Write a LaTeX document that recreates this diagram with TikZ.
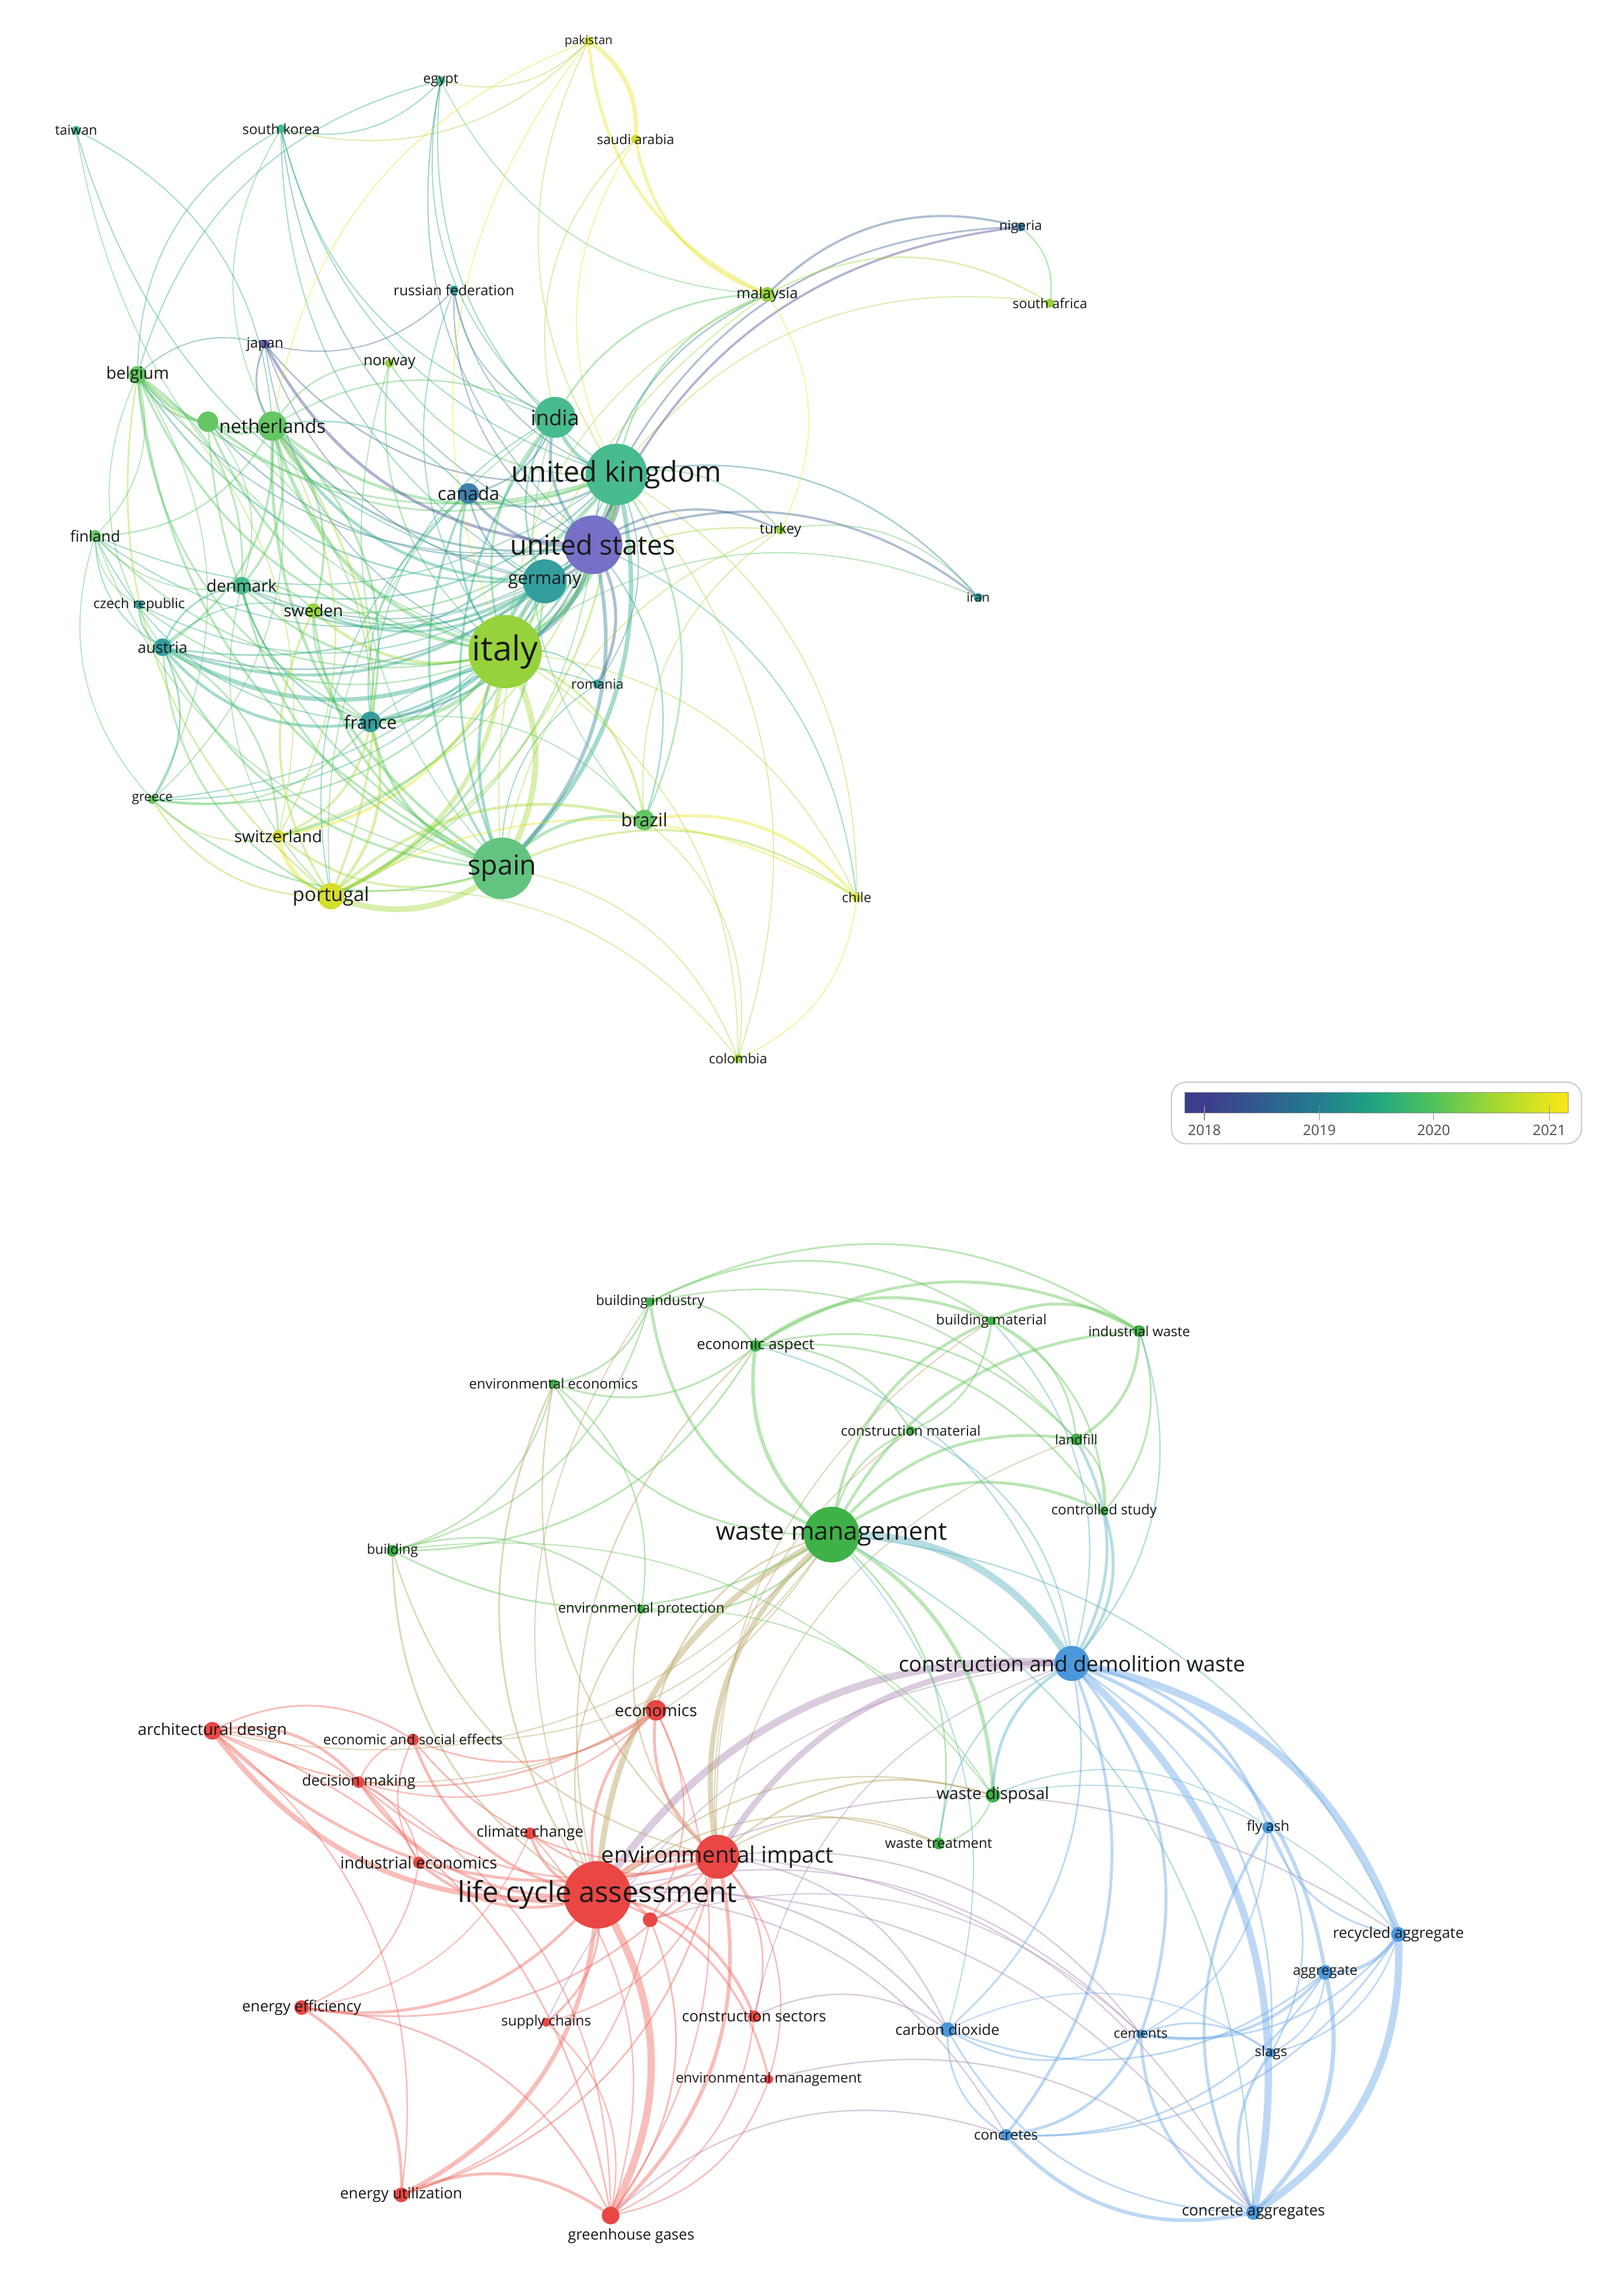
\documentclass[tikz,border=0pt]{standalone}
\usepackage{fontspec}
\setmainfont{Open Sans}
\pgfdeclarelayer{bg}
\pgfdeclarelayer{edges}
\pgfdeclarelayer{nodes}
\pgfsetlayers{bg,edges,nodes,main}
% year scale colours
\definecolor{c0}{RGB}{62,60,140}
\definecolor{c1}{RGB}{48,92,141}
\definecolor{c2}{RGB}{35,125,142}
\definecolor{c3}{RGB}{32,165,128}
\definecolor{c4}{RGB}{80,195,90}
\definecolor{c5}{RGB}{160,215,50}
\definecolor{c6}{RGB}{230,228,30}
\definecolor{c6e}{RGB}{248,232,25}
% node fills (top)
\definecolor{nUS}{RGB}{118,112,198}
\definecolor{n0}{RGB}{92,88,170}
\definecolor{n1}{RGB}{62,128,172}
\definecolor{n2}{RGB}{52,158,158}
\definecolor{n3}{RGB}{72,188,142}
\definecolor{nES}{RGB}{98,196,128}
\definecolor{n4}{RGB}{100,198,100}
\definecolor{n5}{RGB}{150,210,60}
\definecolor{n6}{RGB}{212,222,45}
% bottom clusters
\definecolor{nR}{RGB}{233,70,68}
\definecolor{nG}{RGB}{62,178,72}
\definecolor{nB}{RGB}{74,152,220}
\definecolor{eR}{RGB}{240,110,100}
\definecolor{eG}{RGB}{105,200,95}
\definecolor{eB}{RGB}{110,170,232}
\definecolor{eRG}{RGB}{185,165,100}
\definecolor{eRB}{RGB}{175,140,185}
\definecolor{eGB}{RGB}{95,180,195}
\pgfdeclarehorizontalshading{yrs}{100bp}{color(0bp)=(c0); color(27.5bp)=(c0); color(42.5bp)=(c2); color(50bp)=(c3); color(57.5bp)=(c4); color(65bp)=(c5); color(72.5bp)=(c6); color(75bp)=(c6e); color(100bp)=(c6e)}
\tikzset{
  dot/.style={circle, inner sep=0pt, draw=none},
  lab/.style={inner sep=0.5pt, text=black!90},
  lnk/.style={line cap=round, draw opacity=0.4},
}
\newcommand\vn[7]{%
  \begin{pgfonlayer}{nodes}\node[dot, fill=#5, minimum size=#4*0.05cm] (#1) at (#2,-#3) {};\end{pgfonlayer}%
  \node[lab, font=\fontsize{#6}{#6}\selectfont] (#1-t) at (#1.center) {#7};}
\begin{document}
\begin{tikzpicture}[x=0.025cm, y=0.025cm]
\useasboundingbox (0,0) rectangle (1096,-1568);
\begin{pgfonlayer}{bg}\fill[white] (0,0) rectangle (1096,-1568);\end{pgfonlayer}
% ---------------- top network ----------------
\vn{pk}{402}{28}{3}{n6}{5.9}{pakistan}
\vn{eg}{301}{55}{3}{n3}{6.6}{egypt}
\vn{tw}{52}{89}{3}{n3}{6.6}{taiwan}
\vn{kr}{192}{88}{3}{n3}{6.8}{south korea}
\vn{sa}{434}{95}{3}{n6}{6.6}{saudi arabia}
\vn{ng}{697}{155}{3}{n1}{6.5}{nigeria}
\vn{ru}{310}{198}{3}{n2}{6.9}{russian federation}
\vn{my}{524}{201}{5}{n5}{7.3}{malaysia}
\vn{za}{717}{207}{3}{n5}{6.6}{south africa}
\vn{jp}{181}{235}{3}{n0}{6.9}{japan}
\vn{nor}{266}{248}{3}{n5}{7.3}{norway}
\vn{be}{94}{256}{6}{n4}{8.1}{belgium}
\vn{ind}{379}{285}{14}{n3}{10.3}{india}
\begin{pgfonlayer}{nodes}\node[dot, fill=n4, minimum size=7*0.05cm] (nlb) at (142,-288) {};\end{pgfonlayer}
\vn{nl}{186}{291}{10}{n4}{9.2}{netherlands}
\vn{uk}{421}{324}{21}{n3}{13.9}{united kingdom}
\vn{ca}{320}{337}{7}{n1}{8.9}{canada}
\vn{us}{405}{372}{20}{nUS}{13.3}{united states}
\vn{fi}{65}{366}{4}{n4}{7.5}{finland}
\vn{tr}{533}{362}{3}{n5}{6.9}{turkey}
\vn{dk}{165}{400}{6}{n3}{8.1}{denmark}
\vn{de}{372}{397}{15}{n2}{8.6}{germany}
\vn{cz}{95}{413}{3}{n2}{6.7}{czech republic}
\vn{se}{214}{417}{5}{n5}{8.0}{sweden}
\vn{ir}{668}{408}{3}{n2}{6.2}{iran}
\vn{aut}{111}{442}{6}{n2}{7.5}{austria}
\vn{it}{345}{445}{25}{n5}{16.7}{italy}
\vn{ro}{408}{467}{3}{n2}{6.5}{romania}
\vn{fr}{253}{493}{7}{n2}{8.7}{france}
\vn{gr}{104}{546}{3}{n4}{6.4}{greece}
\vn{br}{440}{560}{7}{n4}{8.9}{brazil}
\vn{ch}{190}{571}{4}{n6}{8.0}{switzerland}
\vn{es}{343}{593}{21}{nES}{13.3}{spain}
\vn{pt}{226}{612}{9}{n6}{9.4}{portugal}
\vn{cl}{585}{613}{3}{n6}{6.6}{chile}
\vn{co}{504}{723}{3}{n5}{6.6}{colombia}
\begin{pgfonlayer}{edges}
\foreach \a/\b/\w/\c in {
uk/us/4/c1, uk/it/4/c4, uk/es/3/c3, uk/de/2.5/c2, uk/ind/2.5/c3, uk/ca/1.5/c2, uk/fr/1.5/c3, uk/nl/2/c4, uk/pt/1.5/c5, uk/br/1.2/c4, uk/tr/1/c4, uk/ir/1/c2, uk/my/1.2/c4, uk/ng/1.2/c1, uk/za/0.8/c5, uk/sa/0.8/c6, uk/pk/0.8/c5, uk/eg/0.8/c3, uk/kr/0.8/c3, uk/be/1.2/c4, uk/dk/1.2/c3, uk/se/1.2/c4, uk/aut/1.2/c3, uk/nor/1/c4, uk/jp/1/c1, uk/ru/0.8/c2, uk/gr/0.8/c3, uk/ch/1/c5, uk/fi/0.8/c3, uk/cl/0.8/c5, uk/co/0.8/c5, uk/ro/0.8/c2, uk/nlb/1.2/c4,
us/it/3/c2, us/es/2.5/c2, us/de/2/c1, us/ind/2/c2, us/ca/2/c1, us/fr/1.5/c2, us/nl/1.5/c2, us/jp/2/c0, us/ir/1.5/c1, us/tr/1.5/c1, us/ro/2/c1, us/ng/1.5/c0, us/my/1/c2, us/br/1/c3, us/kr/0.8/c2, us/eg/0.8/c2, us/ru/0.8/c1, us/pt/0.8/c4, us/be/0.8/c2, us/aut/1/c2, us/cl/0.8/c3, us/dk/0.8/c2, us/se/0.8/c3, us/nlb/1/c2,
it/es/4/c5, it/pt/3/c5, it/fr/2.5/c4, it/de/2.5/c3, it/ind/1.5/c4, it/ch/2/c6, it/br/1.5/c5, it/gr/1.2/c4, it/aut/3/c3, it/nl/2.5/c4, it/be/1.5/c4, it/dk/1.5/c4, it/se/2/c5, it/fi/1/c4, it/cz/1/c4, it/ro/1/c3, it/tr/1/c5, it/co/0.8/c5, it/cl/0.8/c5, it/ca/1.5/c3, it/jp/0.8/c2, it/nor/1/c4, it/ru/0.8/c3, it/tw/0.8/c4, it/pk/0.8/c6, it/ir/0.8/c4, it/my/0.8/c5, it/nlb/1.5/c4,
es/pt/4/c5, es/fr/2/c4, es/de/2/c3, es/br/2/c4, es/ind/1.5/c3, es/nl/2/c4, es/ch/1.5/c5, es/gr/1.2/c4, es/aut/1.5/c4, es/dk/1.5/c4, es/se/1.5/c4, es/be/1.5/c4, es/cl/1.5/c5, es/co/0.8/c5, es/ro/0.8/c3, es/ca/1.5/c3, es/fi/0.8/c4, es/my/0.8/c5, es/tr/0.8/c5, es/nor/0.8/c4, es/nlb/1.2/c4,
de/fr/1.5/c3, de/nl/2/c3, de/aut/2/c3, de/dk/1.5/c3, de/se/1.5/c3, de/ch/1.5/c4, de/pt/1.5/c4, de/be/1.2/c3, de/ind/1.2/c3, de/ca/1.2/c2, de/jp/0.8/c1, de/cz/0.8/c3, de/gr/0.8/c3, de/fi/0.8/c3, de/tw/0.8/c3, de/kr/0.8/c3,
nl/be/2/c4, nl/nlb/1.5/c4, nl/fr/1.5/c4, nl/pt/1.5/c5, nl/dk/1.5/c4, nl/se/1.5/c4, nl/aut/1.5/c4, nl/fi/1/c4, nl/jp/1.2/c1, nl/nor/1/c4, nl/ch/1/c5, nl/ind/1/c4, nl/ca/1/c3, nl/gr/0.8/c4, nl/kr/0.8/c4, nl/pk/0.8/c6,
nlb/be/1.5/c4, nlb/fr/0.8/c4, nlb/dk/0.8/c4,
fr/pt/2/c5, fr/ch/1.5/c5, fr/aut/2/c3, fr/gr/1/c4, fr/be/1.2/c4, fr/dk/1.2/c3, fr/se/1.2/c4, fr/ind/0.8/c3, fr/ca/0.8/c3, fr/br/0.8/c4, fr/fi/0.8/c3, fr/ro/0.8/c3,
pt/ch/3/c6, pt/br/2/c5, pt/gr/1.2/c5, pt/aut/1.2/c4, pt/se/1.5/c5, pt/dk/0.8/c4, pt/be/1.2/c5, pt/cl/1.2/c6, pt/co/0.8/c5, pt/ind/0.8/c4, pt/ca/0.8/c3,
br/cl/2/c6, br/co/0.8/c5, br/ind/0.8/c4, br/tr/0.8/c5,
aut/cz/1.2/c3, aut/gr/1.2/c3, aut/ch/1.2/c4, aut/fi/0.8/c3, aut/dk/1.2/c3, aut/se/0.8/c3, aut/be/0.8/c4,
be/fi/0.8/c4, be/dk/1.2/c4, be/ch/0.8/c5, be/eg/0.8/c3, be/jp/0.8/c2, be/gr/0.8/c4, be/kr/0.8/c3,
ind/my/1.2/c4, ind/ca/1.2/c2, ind/kr/0.8/c3, ind/eg/0.8/c3, ind/sa/0.8/c5, ind/ru/0.8/c2,
my/pk/2/c6, my/sa/2/c6, my/ng/1.5/c1, my/za/1/c5, my/tr/0.8/c6, my/eg/0.8/c4,
pk/sa/3/c6, pk/kr/0.8/c5, pk/eg/0.8/c5,
ng/za/1/c4, tw/nl/0.8/c3, ru/jp/0.8/c1, tr/ir/0.8/c4, cl/co/0.8/c6, dk/se/1.2/c4, dk/fi/0.8/c4, cz/fi/0.8/c4, ch/gr/0.8/c5, gr/fi/0.8/c4, eg/kr/0.8/c3}
  \draw[lnk, line width=\w*0.71pt, draw=\c] (\a.center) to[bend left=30] (\b.center);
\end{pgfonlayer}
% legend
\node[draw=black!20, line width=0.6pt, rounded corners=0.25cm, minimum width=280*0.025cm, minimum height=42*0.025cm, inner sep=0pt] (leg) at (940,-760) {};
\node[shade, shading=yrs, draw=black!45, line width=0.4pt, minimum width=262*0.025cm, minimum height=14*0.025cm, inner sep=0pt] (bar) at (940,-753) {};
\foreach \x/\yr in {822.5/2018, 901/2019, 979/2020, 1058/2021}{
  \draw[black!45, line width=0.4pt] (\x,-755) -- (\x,-765);
  \node[lab, text=black!70, font=\fontsize{7}{7}\selectfont] (y\yr) at (\x,-772) {\yr};
}
% ---------------- bottom network ----------------
\vn{bi}{444}{889}{3}{nG}{6.7}{building industry}
\vn{ea}{516}{919}{4}{nG}{7.3}{economic aspect}
\vn{bm}{677}{902}{3}{nG}{6.8}{building material}
\vn{iw}{778}{909}{4}{nG}{6.7}{industrial waste}
\vn{eec}{378}{945}{3}{nG}{6.8}{environmental economics}
\vn{cm}{622}{977}{3}{nG}{6.8}{construction material}
\vn{lf}{735}{983}{4}{nG}{6.6}{landfill}
\vn{cst}{754}{1032}{3}{nG}{6.8}{controlled study}
\vn{bld}{268}{1059}{4}{nG}{6.6}{building}
\vn{wm}{568}{1048}{19}{nG}{12.2}{waste management}
\vn{ep}{438}{1099}{3}{nG}{6.8}{environmental protection}
\vn{cdw}{732}{1136}{12}{nB}{10.4}{construction and demolition waste}
\vn{econ}{448}{1168}{7}{nR}{8.0}{economics}
\vn{arch}{145}{1182}{6}{nR}{7.9}{architectural design}
\vn{ese}{282}{1188}{4}{nR}{6.8}{economic and social effects}
\vn{dm}{245}{1217}{4}{nR}{7.3}{decision making}
\vn{wd}{678}{1226}{5}{nG}{8.0}{waste disposal}
\vn{cc}{362}{1252}{4}{nR}{7.4}{climate change}
\vn{wt}{641}{1259}{4}{nG}{6.8}{waste treatment}
\vn{fa}{866}{1248}{4}{nB}{6.9}{fly ash}
\vn{ei}{490}{1268}{15}{nR}{11.0}{environmental impact}
\vn{ie}{286}{1272}{4}{nR}{7.9}{industrial economics}
\vn{lca}{408}{1294}{23}{nR}{14.0}{life cycle assessment}
\begin{pgfonlayer}{nodes}\node[dot, fill=nR, minimum size=5*0.05cm] (x) at (444,-1311) {};\end{pgfonlayer}
\vn{ra}{955}{1321}{5}{nB}{7.3}{recycled aggregate}
\vn{ag}{905}{1347}{5}{nB}{6.8}{aggregate}
\vn{ee}{206}{1371}{5}{nR}{7.4}{energy efficiency}
\vn{sc}{373}{1381}{3}{nR}{6.9}{supply chains}
\vn{cs}{515}{1377}{4}{nR}{7.4}{construction sectors}
\vn{co2}{647}{1386}{5}{nB}{7.3}{carbon dioxide}
\vn{cem}{779}{1389}{3}{nB}{6.6}{cements}
\vn{sl}{868}{1402}{3}{nB}{6.8}{slags}
\vn{em}{525}{1420}{3}{nR}{6.8}{environmental management}
\vn{con}{687}{1458}{4}{nB}{6.9}{concretes}
\vn{eu}{274}{1499}{5}{nR}{7.4}{energy utilization}
\begin{pgfonlayer}{nodes}\node[dot, fill=nR, minimum size=6*0.05cm] (ghg) at (417,-1513) {};\end{pgfonlayer}
\node[lab, font=\fontsize{7.3}{7.3}\selectfont] (ghg-t) at ([shift={(14,-14)}]ghg.center) {greenhouse gases};
\vn{cag}{856}{1511}{5}{nB}{7.4}{concrete aggregates}
\begin{pgfonlayer}{edges}
\foreach \a/\b/\w/\c in {
lca/ei/4/eR, lca/ghg/5/eR, lca/eu/3/eR, lca/ee/2/eR, lca/arch/3.5/eR, lca/dm/2/eR, lca/cc/2/eR, lca/ie/2/eR, lca/ese/2/eR, lca/econ/2/eR, lca/sc/1.5/eR, lca/cs/2/eR, lca/em/1.5/eR, lca/x/2/eR, lca/wm/4/eRG, lca/cdw/5/eRB, lca/bld/1.2/eRG, lca/eec/1.2/eRG, lca/ep/1/eRG, lca/co2/1.2/eRB, lca/con/1/eRB, lca/cag/1/eRB, lca/cem/1/eRB, lca/ra/1/eRB, lca/wd/1/eRG, lca/wt/1/eRG, lca/bi/0.8/eRG, lca/ea/1/eRG,
ei/ghg/2.5/eR, ei/eu/1.2/eR, ei/ee/1.2/eR, ei/arch/2/eR, ei/dm/1.2/eR, ei/econ/2/eR, ei/ese/1.2/eR, ei/ie/1.2/eR, ei/cc/1.2/eR, ei/sc/1/eR, ei/cs/1.2/eR, ei/em/1/eR, ei/x/1.2/eR, ei/wm/3.5/eRG, ei/cdw/4/eRB, ei/wd/1.2/eRG, ei/wt/1/eRG, ei/co2/1/eRB, ei/cag/1/eRB, ei/cem/1/eRB, ei/bld/1/eRG, ei/eec/1/eRG, ei/ep/1/eRG, ei/lf/0.8/eRG, ei/bm/0.8/eRG, ei/cm/0.8/eRG,
econ/ese/1.2/eR, econ/arch/1.2/eR, econ/dm/1/eR, econ/wm/1.2/eRG, econ/ghg/1/eR, econ/x/1/eR, arch/dm/2/eR, arch/ie/1.2/eR, arch/ghg/1.2/eR, arch/eu/1/eR, arch/ese/1.2/eR, dm/ese/1/eR, dm/ie/1/eR, dm/ghg/1/eR, ie/ese/1/eR, ie/ee/1/eR, ee/eu/2/eR, ee/ghg/1.2/eR, eu/ghg/2/eR, sc/ghg/1/eR, cs/ghg/1/eR, cs/co2/1/eRB, em/ghg/1/eR, x/ghg/1.2/eR, x/eu/1/eR, cc/ghg/1/eR, cc/ee/0.8/eR, ghg/con/1/eRB, em/cag/1/eRB, x/cem/0.8/eRB, sc/cdw/0.8/eRB, cs/cdw/0.8/eRB,
wm/cdw/5/eGB, wm/bi/2/eG, wm/ea/2.5/eG, wm/bm/2/eG, wm/iw/2/eG, wm/eec/1.2/eG, wm/cm/1.2/eG, wm/lf/2/eG, wm/cst/2/eG, wm/bld/1.2/eG, wm/ep/1.2/eG, wm/wd/2.5/eG, wm/wt/1.2/eG, wm/arch/0.8/eRG, wm/ese/0.8/eRG, wm/dm/0.8/eRG, wm/ra/1/eGB, wm/cag/1/eGB, wm/co2/0.8/eGB,
bi/ea/1.2/eG, bi/eec/1.2/eG, bi/bm/1.2/eG, bi/iw/1.2/eG, bi/bld/1/eG, bi/lf/1/eG, ea/bm/2/eG, ea/iw/2/eG, ea/eec/1.2/eG, ea/cm/1.2/eG, ea/lf/1.2/eG, ea/cst/1.2/eG, ea/bld/1.2/eG, ea/cdw/1/eGB, bm/iw/2/eG, bm/lf/1.2/eG, bm/cst/1.2/eG, bm/cm/1.2/eG, bm/cdw/1/eGB, iw/lf/2/eG, iw/cst/1.2/eG, iw/cdw/1/eGB, lf/cst/1.2/eG, lf/cdw/2/eGB, cst/cdw/2/eGB, cm/cdw/1/eGB, eec/bld/1/eG, eec/ep/1/eG, bld/ep/1/eG, bld/wd/0.8/eG, wd/cdw/2/eGB, wt/cdw/1/eGB, wd/wt/1/eG, ep/wd/0.8/eG, wd/ra/0.8/eGB, wd/fa/0.8/eGB,
cdw/ra/5/eB, cdw/cag/5/eB, cdw/ag/2.5/eB, cdw/fa/2/eB, cdw/cem/2/eB, cdw/con/2/eB, cdw/co2/1.2/eB, cdw/sl/1.2/eB, ra/ag/2.5/eB, ra/cag/5/eB, ra/fa/1.2/eB, ra/cem/1.2/eB, ra/sl/1/eB, ra/con/1.2/eB, ag/cag/3/eB, ag/cem/2/eB, ag/co2/1.2/eB, ag/con/1.2/eB, ag/sl/1/eB, cag/con/2.5/eB, cag/cem/2/eB, cag/sl/2/eB, cag/fa/2/eB, cag/co2/1.2/eB, cem/con/2/eB, cem/co2/1.2/eB, cem/sl/1.2/eB, con/co2/1.2/eB, fa/sl/1.2/eB, fa/cem/1/eB, co2/sl/0.8/eB}
  \draw[lnk, draw opacity=0.45, line width=\w*0.71pt, draw=\c] (\a.center) to[bend left=30] (\b.center);
\end{pgfonlayer}
\end{tikzpicture}
\end{document}
